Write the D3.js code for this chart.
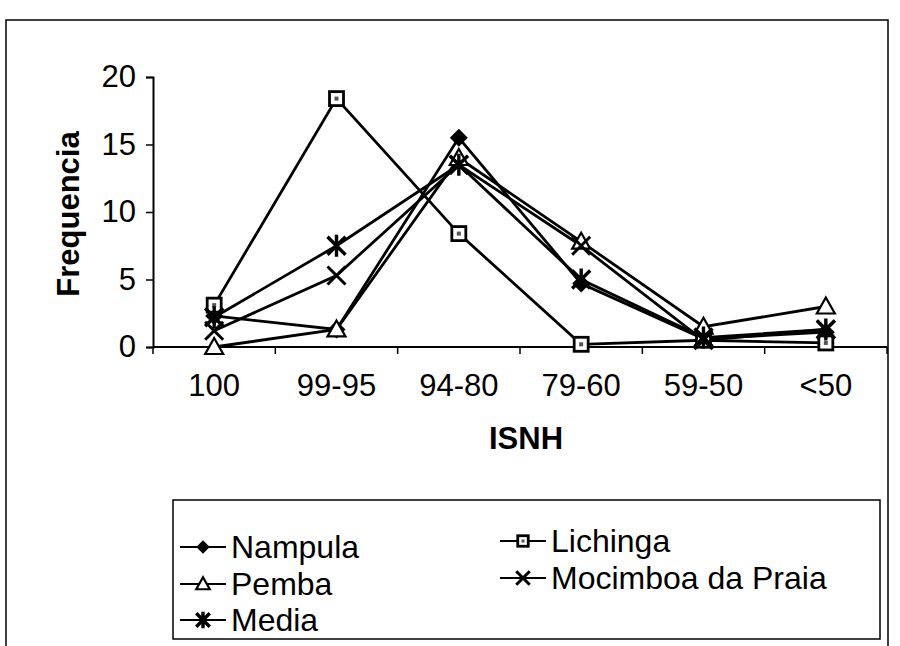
<!DOCTYPE html>
<html>
<head>
<meta charset="utf-8">
<script src="https://cdn.jsdelivr.net/npm/d3@7"></script>
<style>
  body { margin: 0; background: #fff; }
  svg { font-family: "Liberation Sans", Arial, sans-serif; }
</style>
</head>
<body>
<svg id="chart" width="900" height="646"></svg>
<script>
// data
const categories = ['100', '99-95', '94-80', '79-60', '59-50', '<50'];
const yTicks = [0, 5, 10, 15, 20];
const nampula  = [2.3, 1.3, 15.5, 4.7, 0.6, 1.1];
const pemba    = [0, 1.3, 14.0, 7.8, 1.5, 3.0];
const lichinga = [3.1, 18.4, 8.4, 0.2, 0.5, 0.3];
const mocimboa = [1.2, 5.3, 13.5, 7.5, 0.5, 1.3];
const media    = [2.2, 7.5, 13.5, 5.0, 0.7, 1.3];
const seriesNames = ['Nampula', 'Pemba', 'Media', 'Lichinga', 'Mocimboa da Praia'];

const series = [
  {name: seriesNames[0], values: nampula, marker: 'diamond'},
  {name: seriesNames[3], values: lichinga, marker: 'square'},
  {name: seriesNames[1], values: pemba, marker: 'triangle'},
  {name: seriesNames[4], values: mocimboa, marker: 'cross'},
  {name: seriesNames[2], values: media, marker: 'star'}
];

const FS = 31;
const svg = d3.select('#chart');

// outer frame
svg.append('path')
  .attr('d', 'M6,660 L6,20 L888,20 L888,660')
  .attr('fill', 'none').attr('stroke', '#000').attr('stroke-width', 1.5);

const pLeft = 153, pRight = 887, pTop = 77, pBottom = 347;
const x = d3.scaleBand().domain(categories).range([pLeft, pRight]);
const y = d3.scaleLinear().domain([0, 20]).range([pBottom, pTop]);

// y axis
const yAxis = svg.append('g').attr('transform', `translate(${pLeft},0)`)
  .call(d3.axisLeft(y).tickValues(yTicks).tickSize(7).tickPadding(10));
yAxis.select('.domain').attr('stroke-width', 2);
yAxis.selectAll('.tick line').attr('stroke-width', 1.5);
yAxis.selectAll('text').attr('font-size', FS).attr('fill', '#000')
  .attr('font-family', '"Liberation Sans", Arial, sans-serif');

// x axis: line plus ticks at category boundaries
svg.append('line')
  .attr('x1', pLeft).attr('x2', pRight).attr('y1', pBottom).attr('y2', pBottom)
  .attr('stroke', '#000').attr('stroke-width', 2);
const bounds = categories.map(c => x(c)).concat([pRight]);
svg.selectAll('.xtick').data(bounds).enter().append('line')
  .attr('class', 'xtick')
  .attr('x1', d => d).attr('x2', d => d)
  .attr('y1', pBottom).attr('y2', pBottom + 7)
  .attr('stroke', '#000').attr('stroke-width', 1.5);
svg.selectAll('.xlab').data(categories).enter().append('text')
  .attr('class', 'xlab')
  .attr('x', d => x(d) + x.bandwidth() / 2)
  .attr('y', 396)
  .attr('text-anchor', 'middle')
  .attr('font-size', FS)
  .text(d => d);

// axis titles
svg.append('text')
  .attr('transform', 'translate(79,214) rotate(-90)')
  .attr('text-anchor', 'middle')
  .attr('font-size', FS).attr('font-weight', 'bold')
  .text('Frequencia');
svg.append('text')
  .attr('x', 526).attr('y', 449)
  .attr('text-anchor', 'middle')
  .attr('font-size', FS).attr('font-weight', 'bold')
  .text('ISNH');

function drawMarker(g, type, cx, cy, s) {
  s = s || 1;
  if (type === 'diamond') {
    g.append('path')
      .attr('d', `M${cx},${cy-9*s} L${cx+9*s},${cy} L${cx},${cy+9*s} L${cx-9*s},${cy} Z`)
      .attr('fill', '#000');
  } else if (type === 'square') {
    g.append('rect')
      .attr('x', cx - 7*s).attr('y', cy - 7*s)
      .attr('width', 14*s).attr('height', 14*s)
      .attr('fill', '#fff').attr('stroke', '#000').attr('stroke-width', 2.8);
    g.append('rect')
      .attr('x', cx - 2*s).attr('y', cy - 2*s)
      .attr('width', 4*s).attr('height', 4*s)
      .attr('fill', '#555');
  } else if (type === 'triangle') {
    g.append('path')
      .attr('d', `M${cx},${cy-9*s} L${cx+9*s},${cy+7*s} L${cx-9*s},${cy+7*s} Z`)
      .attr('fill', '#fff').attr('stroke', '#000').attr('stroke-width', 2.2);
  } else if (type === 'cross') {
    g.append('path')
      .attr('d', `M${cx-9*s},${cy-9*s} L${cx+9*s},${cy+9*s} M${cx-9*s},${cy+9*s} L${cx+9*s},${cy-9*s}`)
      .attr('stroke', '#000').attr('stroke-width', 3);
  } else if (type === 'star') {
    g.append('path')
      .attr('d', `M${cx-9*s},${cy-9*s} L${cx+9*s},${cy+9*s} M${cx-9*s},${cy+9*s} L${cx+9*s},${cy-9*s} M${cx},${cy-11*s} L${cx},${cy+11*s}`)
      .attr('stroke', '#000').attr('stroke-width', 3.4);
  }
}

const line = d3.line()
  .x((d, i) => x(categories[i]) + x.bandwidth() / 2)
  .y(d => y(d));

const plot = svg.append('g');
series.forEach(s => {
  plot.append('path')
    .datum(s.values)
    .attr('d', line)
    .attr('fill', 'none')
    .attr('stroke', '#000')
    .attr('stroke-width', 2.8);
});
series.forEach(s => {
  const g = plot.append('g');
  s.values.forEach((v, i) => {
    drawMarker(g, s.marker, x(categories[i]) + x.bandwidth() / 2, y(v));
  });
});

// legend
svg.append('rect')
  .attr('x', 173).attr('y', 500).attr('width', 707).attr('height', 139)
  .attr('fill', 'none').attr('stroke', '#000').attr('stroke-width', 1.5);
const legendItems = [
  {name: seriesNames[0], marker: 'diamond', lx: 180, ly: 547},
  {name: seriesNames[1], marker: 'triangle', lx: 180, ly: 584},
  {name: seriesNames[2], marker: 'star', lx: 180, ly: 620},
  {name: seriesNames[3], marker: 'square', lx: 500, ly: 541},
  {name: seriesNames[4], marker: 'cross', lx: 500, ly: 578}
];
legendItems.forEach(d => {
  const g = svg.append('g');
  g.append('line')
    .attr('x1', d.lx).attr('x2', d.lx + 46)
    .attr('y1', d.ly).attr('y2', d.ly)
    .attr('stroke', '#000').attr('stroke-width', 2.2);
  drawMarker(g, d.marker, d.lx + 23, d.ly, 0.75);
  g.append('text')
    .attr('x', d.lx + 51).attr('y', d.ly + 11)
    .attr('font-size', FS + 1)
    .text(d.name);
});
</script>
</body>
</html>
